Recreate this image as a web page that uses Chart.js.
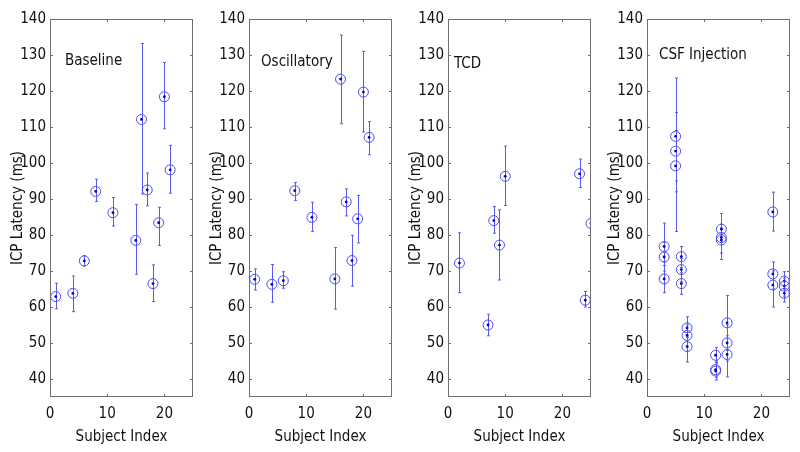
<!DOCTYPE html>
<html>
<head>
<meta charset="utf-8">
<script src="https://cdn.jsdelivr.net/npm/chart.js@4"></script>
<style>
  body { margin: 0; background: #fff; }
  #wrap { position: relative; width: 800px; height: 452px; }
  .panel { position: absolute; top: 0; }
</style>
</head>
<body>
<div id="wrap"></div>
<script>
// values
var subjects_baseline = [1, 4, 6, 8, 11, 15, 16, 17, 18, 19, 20, 21];
var latency_baseline  = [62.9, 63.8, 72.8, 92.1, 86.2, 78.5, 112.1, 92.5, 66.5, 83.4, 118.4, 98.1];
var low_baseline      = [59.5, 58.7, 71.4, 89.3, 82.5, 69.1, 91.4, 88.1, 61.5, 77.1, 109.5, 91.6];
var high_baseline     = [66.6, 68.6, 74.3, 95.5, 90.4, 88.5, 133.2, 97.2, 71.7, 87.7, 127.9, 104.9];

var subjects_osc = [1, 4, 6, 8, 11, 15, 16, 17, 18, 19, 20, 21];
var latency_osc  = [67.7, 66.3, 67.3, 92.3, 84.9, 67.8, 123.3, 89.2, 72.9, 84.5, 119.7, 107.1];
var low_osc      = [64.7, 61.3, 65.2, 89.6, 81.0, 59.4, 110.9, 85.3, 65.8, 77.8, 108.6, 102.3];
var high_osc     = [70.6, 71.8, 69.8, 94.6, 89.1, 76.5, 135.5, 92.8, 79.9, 91.0, 131.0, 111.5];

var subjects_tcd = [2, 7, 8, 9, 10, 23, 24, 25];
var latency_tcd  = [72.2, 55.0, 84.0, 77.2, 96.3, 97.0, 61.9, 83.2];
var low_tcd      = [64.0, 52.0, 80.5, 67.5, 88.2, 93.2, 60.0, 80.3];
var high_tcd     = [80.6, 58.0, 87.9, 87.0, 104.7, 101.1, 64.3, 86.3];

var subjects_csf = [3, 3, 3, 5, 5, 5, 6, 6, 6, 7, 7, 7, 12, 12, 12, 13, 13, 13, 14, 14, 14, 22, 22, 22, 24, 24, 24];
var latency_csf  = [76.8, 73.9, 67.8, 107.4, 103.3, 99.2, 74.0, 70.4, 66.5, 54.2, 52.1, 49.0, 46.6, 42.6, 42.2,
                    81.6, 79.3, 78.6, 55.6, 50.0, 46.8, 86.4, 69.2, 66.1, 67.2, 65.8, 63.8];
var low_csf      = [72.5, 70.0, 64.0, 95.0, 92.0, 81.0, 71.0, 67.0, 63.5, 51.5, 49.0, 44.7, 44.5, 40.5, 39.7,
                    78.0, 75.0, 73.2, 48.0, 45.0, 40.6, 81.1, 65.0, 60.0, 65.0, 63.0, 61.4];
var high_csf     = [83.3, 78.0, 71.5, 123.6, 114.0, 109.0, 76.8, 73.5, 69.5, 57.3, 55.0, 52.0, 48.8, 45.0, 44.5,
                    86.0, 83.0, 82.0, 63.2, 55.0, 52.0, 91.9, 72.5, 70.0, 69.8, 68.0, 66.0];

var panelTitles = ['Baseline', 'Oscillatory', 'TCD', 'CSF Injection'];
var yTicks = [40, 50, 60, 70, 80, 90, 100, 110, 120, 130, 140];
var xTicks = [0, 10, 20];

var panels = [
  [subjects_baseline, latency_baseline, low_baseline, high_baseline],
  [subjects_osc, latency_osc, low_osc, high_osc],
  [subjects_tcd, latency_tcd, low_tcd, high_tcd],
  [subjects_csf, latency_csf, low_csf, high_csf]
];
var titlePos = [[15, 42], [12, 43], [6, 45], [12, 36]];

var FONT = "'Liberation Sans Narrow', 'DejaVu Sans Condensed', 'Arial Narrow', sans-serif";
var FRAME = '#707070';

// error bars drawn under the markers
var errorBars = {
  id: 'errorBars',
  beforeDatasetsDraw: function (chart) {
    var d = chart.config.options.plugins.errorBars;
    var xs = chart.scales.x, ys = chart.scales.y, c = chart.ctx;
    c.save();
    c.beginPath();
    c.rect(chart.chartArea.left, chart.chartArea.top, chart.chartArea.width, chart.chartArea.height);
    c.clip();
    c.strokeStyle = '#5b5bf0';
    c.lineWidth = 1;
    for (var i = 0; i < d.x.length; i++) {
      var px = Math.round(xs.getPixelForValue(d.x[i])) + 0.5;
      var p1 = ys.getPixelForValue(d.lo[i]);
      var p2 = ys.getPixelForValue(d.hi[i]);
      c.beginPath();
      c.moveTo(px, p1); c.lineTo(px, p2);
      c.moveTo(px - 1.5, p1); c.lineTo(px + 1.5, p1);
      c.moveTo(px - 1.5, p2); c.lineTo(px + 1.5, p2);
      c.stroke();
    }
    c.restore();
  }
};

// MATLAB style box with inward ticks and corner label
var boxAxes = {
  id: 'boxAxes',
  afterDraw: function (chart) {
    var a = chart.chartArea, c = chart.ctx;
    var xs = chart.scales.x, ys = chart.scales.y;
    c.save();
    c.strokeStyle = FRAME;
    c.lineWidth = 1;
    c.strokeRect(Math.round(a.left) + 0.5, Math.round(a.top) + 0.5,
                 Math.round(a.width) - 1, Math.round(a.height) - 1);
    c.beginPath();
    yTicks.forEach(function (v) {
      var py = Math.round(ys.getPixelForValue(v)) + 0.5;
      c.moveTo(a.left, py); c.lineTo(a.left + 3, py);
      c.moveTo(a.right, py); c.lineTo(a.right - 3, py);
    });
    xTicks.forEach(function (v) {
      var px = Math.round(xs.getPixelForValue(v)) + 0.5;
      c.moveTo(px, a.bottom); c.lineTo(px, a.bottom - 3);
      c.moveTo(px, a.top); c.lineTo(px, a.top + 3);
    });
    c.stroke();
    var t = chart.config.options.plugins.cornerLabel;
    c.fillStyle = '#111';
    c.font = '15px ' + FONT;
    c.textBaseline = 'middle';
    c.fillText(t.text, a.left + t.dx, a.top + t.dy);
    c.restore();
  }
};

var wrap = document.getElementById('wrap');

panels.forEach(function (p, k) {
  var div = document.createElement('div');
  div.className = 'panel';
  div.style.left = (199 * k) + 'px';
  var cv = document.createElement('canvas');
  cv.width = 199; cv.height = 452;
  div.appendChild(cv);
  wrap.appendChild(div);

  var pts = p[0].map(function (x, i) { return { x: x, y: p[1][i] }; });

  new Chart(cv, {
    type: 'scatter',
    data: {
      datasets: [
        {
          data: pts,
          pointRadius: 5,
          pointBorderWidth: 1,
          pointBorderColor: '#4a4af5',
          pointBackgroundColor: 'rgba(0,0,0,0)',
          pointHoverRadius: 5
        },
        {
          data: pts,
          pointRadius: 1.4,
          pointBorderWidth: 0,
          pointBackgroundColor: '#0000c8'
        }
      ]
    },
    options: {
      responsive: false,
      animation: false,
      devicePixelRatio: 1,
      layout: { padding: { top: 19, right: 6, left: 0, bottom: 0 } },
      plugins: {
        legend: { display: false },
        tooltip: { enabled: false },
        errorBars: { x: p[0], lo: p[2], hi: p[3] },
        cornerLabel: { text: panelTitles[k], dx: titlePos[k][0], dy: titlePos[k][1] }
      },
      scales: {
        x: {
          type: 'linear',
          min: 0, max: 25,
          afterFit: function (s) { s.height = 55; },
          afterBuildTicks: function (s) { s.ticks = xTicks.map(function (v) { return { value: v }; }); },
          grid: { display: false, drawTicks: false },
          border: { display: false },
          ticks: { color: '#111', font: { family: FONT, size: 15 }, padding: 8, maxRotation: 0 },
          title: { display: true, text: 'Subject Index', color: '#111',
                   font: { family: FONT, size: 15 }, padding: { top: 0, bottom: 6 } }
        },
        y: {
          min: 35, max: 140,
          afterFit: function (s) { s.width = 50; },
          afterBuildTicks: function (s) { s.ticks = yTicks.map(function (v) { return { value: v }; }); },
          grid: { display: false, drawTicks: false },
          border: { display: false },
          ticks: { color: '#111', font: { family: FONT, size: 15 }, padding: 4 },
          title: { display: true, text: 'ICP Latency (ms)', color: '#111',
                   font: { family: FONT, size: 15 }, padding: { top: 9, bottom: 0 } }
        }
      }
    },
    plugins: [errorBars, boxAxes]
  });
});
</script>
</body>
</html>
